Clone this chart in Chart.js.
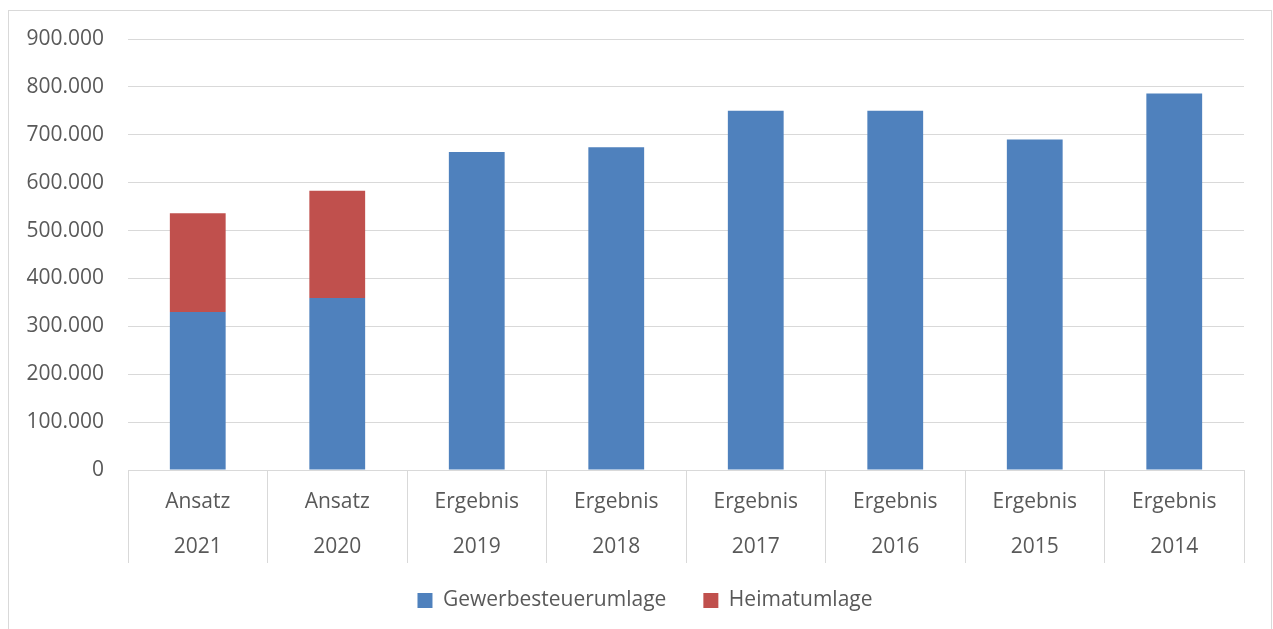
<!DOCTYPE html>
<html>
<head>
<meta charset="utf-8">
<script src="https://cdn.jsdelivr.net/npm/chart.js@4.4.0/dist/chart.umd.min.js"></script>
<style>
  body { margin: 0; background: #fff; }
  #wrap { width: 1273px; height: 629px; }
</style>
</head>
<body>
<div id="wrap"><canvas id="barChart" width="1273" height="629"></canvas></div>
<script>
// categories (two-level axis labels)
const kind = ['Ansatz', 'Ansatz', 'Ergebnis', 'Ergebnis', 'Ergebnis', 'Ergebnis', 'Ergebnis', 'Ergebnis'];
const years = ['2021', '2020', '2019', '2018', '2017', '2016', '2015', '2014'];

// values
const gewerbesteuerumlage = [330000, 359000, 664000, 674000, 750000, 750000, 690000, 786000];
const heimatumlage = [206000, 224000, null, null, null, null, null, null];

const labels = kind.map(function (k, i) { return [k, years[i]]; });

const grey = '#d9d9d9';
const textGrey = '#595959';
Chart.defaults.font.family = '"Open Sans", sans-serif';
Chart.defaults.font.size = 21;
Chart.defaults.color = textGrey;

// light frame around the whole chart, legend nudged to the right like the original
const frame = {
  id: 'frame',
  afterLayout(chart) {
    chart.legend.left += 10;
    chart.legend.right += 10;
  },
  beforeDraw(chart) {
    const ctx = chart.ctx;
    ctx.save();
    ctx.fillStyle = '#fff';
    ctx.fillRect(0, 0, chart.width, chart.height);
    ctx.strokeStyle = grey;
    ctx.lineWidth = 1;
    ctx.strokeRect(8.5, 10.5, 1263, 640);
    ctx.restore();
  }
};

function dots(v) {
  return String(v).replace(/\B(?=(\d{3})+(?!\d))/g, '.');
}

const barChart = new Chart(document.getElementById('barChart'), {
  type: 'bar',
  data: {
    labels: labels,
    datasets: [{
      label: 'Gewerbesteuerumlage',
      data: gewerbesteuerumlage,
      backgroundColor: '#4f81bd',
      barPercentage: 0.4,
      categoryPercentage: 1
    }, {
      label: 'Heimatumlage',
      data: heimatumlage,
      backgroundColor: '#c0504d',
      barPercentage: 0.4,
      categoryPercentage: 1
    }]
  },
  options: {
    responsive: false,
    animation: false,
    layout: { padding: { left: 26, right: 29, top: 39, bottom: 8 } },
    plugins: {
      tooltip: { enabled: false },
      legend: {
        position: 'bottom',
        labels: { boxWidth: 15, boxHeight: 15, padding: 37, color: textGrey }
      }
    },
    scales: {
      x: {
        stacked: true,
        border: { display: true, color: grey },
        grid: { offset: true, drawOnChartArea: false, drawTicks: true, tickLength: 93, color: grey },
        ticks: { padding: -83.5, font: { size: 21, lineHeight: 2.143 }, maxRotation: 0 },
        afterFit(scale) { scale.height = 83; }
      },
      y: {
        stacked: true,
        min: 0,
        max: 900000,
        border: { display: false },
        grid: { color: grey, drawTicks: false },
        ticks: { stepSize: 100000, padding: 24, callback: function (v) { return dots(v); } },
        afterFit(scale) { scale.width = 102; }
      }
    }
  },
  plugins: [frame]
});
</script>
</body>
</html>
